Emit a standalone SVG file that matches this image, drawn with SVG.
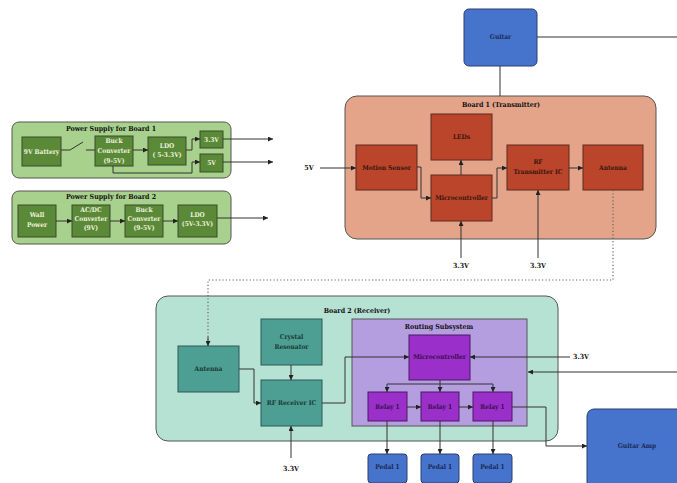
<svg xmlns="http://www.w3.org/2000/svg" width="677" height="483" viewBox="0 0 677 483">
<style>
text{font-family:"DejaVu Serif Condensed","DejaVu Serif",serif;font-weight:bold;font-size:6.6px;text-anchor:middle;dominant-baseline:middle}
.ps{fill:#a9d18e;stroke:#555;stroke-width:1}
.psn{fill:#5a8a38;stroke:#3a4a2a;stroke-width:1}
.pst{fill:#eef0dc}
.b1{fill:#e3a48a;stroke:#555;stroke-width:1}
.b1n{fill:#bb452b;stroke:#5a2a1e;stroke-width:1}
.b1t{fill:#3a1610}
.b2{fill:#b6e2d4;stroke:#555;stroke-width:1}
.b2n{fill:#4d9e93;stroke:#2d5a55;stroke-width:1}
.b2t{fill:#1c3a36}
.rs{fill:#b49ee0;stroke:#555;stroke-width:1}
.rsn{fill:#9a2fca;stroke:#4a1a60;stroke-width:1}
.rst{fill:#3a0f50}
.bl{fill:#4674cd;stroke:#2a3f70;stroke-width:1}
.blt{fill:#1a2a55}
.lbl{fill:#111;font-size:7px}
.c{fill:none;stroke:#333;stroke-width:1}
.ca{fill:none;stroke:#333;stroke-width:1;marker-end:url(#ah)}
.dot{fill:none;stroke:#666;stroke-width:1.2;stroke-dasharray:1.2 2.2}
</style>
<defs>
<marker id="ah" viewBox="0 0 10 10" refX="10" refY="5" markerWidth="5" markerHeight="5" markerUnits="userSpaceOnUse" orient="auto">
<path d="M0,0L10,5L0,10z" fill="#222"/>
</marker>
</defs>

<g id="ps1">
<rect class="ps" x="12" y="122" width="219" height="56" rx="7"/>
<text x="111" y="129" class="lbl">Power Supply for Board 1</text>
</g>
<g id="battery"><rect class="psn" x="22" y="137" width="39" height="29"/><text class="pst" x="41.5" y="152">9V Battery</text></g>
<g id="buck1"><rect class="psn" x="95" y="136" width="38" height="30"/><text class="pst" x="114" y="141">Buck</text><text class="pst" x="114" y="151">Converter</text><text class="pst" x="114" y="161">(9-5V)</text></g>
<g id="ldo1"><rect class="psn" x="148" y="137" width="38" height="28"/><text class="pst" x="167" y="146">LDO</text><text class="pst" x="167" y="155">( 5-3.3V)</text></g>
<g id="v33"><rect class="psn" x="200" y="131" width="23" height="17"/><text class="pst" x="211.5" y="140">3.3V</text></g>
<g id="v5"><rect class="psn" x="200" y="154" width="23" height="18"/><text class="pst" x="211.5" y="163">5V</text></g>

<g id="ps2">
<rect class="ps" x="12" y="191" width="219" height="53" rx="7"/>
<text x="111" y="197" class="lbl">Power Supply for Board 2</text>
</g>
<g id="wall"><rect class="psn" x="18" y="205" width="38" height="32"/><text class="pst" x="37" y="215">Wall</text><text class="pst" x="37" y="225">Power</text></g>
<g id="acdc"><rect class="psn" x="72" y="205" width="38" height="32"/><text class="pst" x="91" y="210">AC/DC</text><text class="pst" x="91" y="219">Converter</text><text class="pst" x="91" y="228">(9V)</text></g>
<g id="buck2"><rect class="psn" x="125" y="205" width="38" height="32"/><text class="pst" x="144" y="210">Buck</text><text class="pst" x="144" y="219">Converter</text><text class="pst" x="144" y="228">(9-5V)</text></g>
<g id="ldo2"><rect class="psn" x="178" y="205" width="39" height="32"/><text class="pst" x="197.5" y="215">LDO</text><text class="pst" x="197.5" y="224">(5V-3.3V)</text></g>

<g id="guitar"><rect class="bl" x="464" y="9" width="73" height="57" rx="5"/><text class="blt" x="500.5" y="37.5">Guitar</text></g>

<g id="board1">
<rect class="b1" x="345" y="96" width="311" height="143" rx="12"/>
<text x="501" y="105" class="lbl">Board 1 (Transmitter)</text>
</g>
<g id="leds"><rect class="b1n" x="431" y="114" width="61" height="46"/><text class="b1t" x="461.5" y="137">LEDs</text></g>
<g id="motion"><rect class="b1n" x="356" y="145" width="61" height="45"/><text class="b1t" x="386.5" y="168">Motion Sensor</text></g>
<g id="mcu1"><rect class="b1n" x="431" y="175" width="61" height="46"/><text class="b1t" x="461.5" y="198">Microcontroller</text></g>
<g id="rftx"><rect class="b1n" x="507" y="145" width="62" height="45"/><text class="b1t" x="538" y="162">RF</text><text class="b1t" x="538" y="172">Transmitter IC</text></g>
<g id="ant1"><rect class="b1n" x="583" y="145" width="60" height="45"/><text class="b1t" x="613" y="168">Antenna</text></g>

<g id="board2">
<rect class="b2" x="156" y="296" width="402" height="145" rx="12"/>
<text x="357" y="311" class="lbl">Board 2 (Receiver)</text>
</g>
<g id="ant2"><rect class="b2n" x="178" y="346" width="61" height="46"/><text class="b2t" x="208.5" y="369">Antenna</text></g>
<g id="crystal"><rect class="b2n" x="261" y="319" width="61" height="46"/><text class="b2t" x="291.5" y="337">Crystal</text><text class="b2t" x="291.5" y="347">Resonator</text></g>
<g id="rfrx"><rect class="b2n" x="261" y="380" width="61" height="46"/><text class="b2t" x="291.5" y="403">RF Receiver IC</text></g>

<g id="routing">
<rect class="rs" x="352" y="319" width="175" height="107"/>
<text x="439" y="327" class="lbl">Routing Subsystem</text>
</g>
<g id="mcu2"><rect class="rsn" x="409" y="335" width="61" height="45"/><text class="rst" x="439.5" y="357.5">Microcontroller</text></g>
<g id="relay1"><rect class="rsn" x="368" y="392" width="39" height="29"/><text class="rst" x="387.5" y="407">Relay 1</text></g>
<g id="relay2"><rect class="rsn" x="421" y="392" width="38" height="29"/><text class="rst" x="440" y="407">Relay 1</text></g>
<g id="relay3"><rect class="rsn" x="473" y="392" width="39" height="29"/><text class="rst" x="492.5" y="407">Relay 1</text></g>

<g id="pedal1"><rect class="bl" x="368" y="454" width="39" height="29" rx="3"/><text class="blt" x="387.5" y="467">Pedal 1</text></g>
<g id="pedal2"><rect class="bl" x="421" y="454" width="38" height="29" rx="3"/><text class="blt" x="440" y="467">Pedal 1</text></g>
<g id="pedal3"><rect class="bl" x="473" y="454" width="39" height="29" rx="3"/><text class="blt" x="492.5" y="467">Pedal 1</text></g>
<g id="amp"><rect class="bl" x="587" y="409" width="100" height="80" rx="7"/><text class="blt" x="637" y="446">Guitar Amp</text></g>

<g id="labels">
<text class="lbl" x="309" y="168">5V</text>
<text class="lbl" x="461" y="266">3.3V</text>
<text class="lbl" x="538" y="266">3.3V</text>
<text class="lbl" x="291" y="469">3.3V</text>
<text class="lbl" x="581" y="357">3.3V</text>
</g>

<g id="connectors">
<path class="c" d="M61,150H70L83,142"/>
<path class="c" d="M86,150H95"/>
<path class="ca" d="M133,150H148"/>
<path class="ca" d="M186,150H192V139H200"/>
<path class="ca" d="M113,166V173H192V162H200"/>
<path class="ca" d="M223,139H273"/>
<path class="ca" d="M223,162H273"/>
<path class="ca" d="M56,221H72"/>
<path class="ca" d="M110,221H125"/>
<path class="ca" d="M163,221H178"/>
<path class="ca" d="M217,218H268"/>
<path class="c" d="M500,66V96"/>
<path class="c" d="M537,37H677"/>
<path class="ca" d="M320,168H356"/>
<path class="ca" d="M417,167H421V198H431"/>
<path class="ca" d="M461,175V160"/>
<path class="ca" d="M492,198H497V168H507"/>
<path class="ca" d="M569,168H583"/>
<path class="ca" d="M461,258V221"/>
<path class="ca" d="M538,258V190"/>
<path class="dot" d="M613,190V280H208V340"/>
<path class="ca" d="M208,337V346"/>
<path class="ca" d="M239,369H254V403H261"/>
<path class="ca" d="M291,365V380"/>
<path class="ca" d="M291,458V426"/>
<path class="ca" d="M322,403H345V357H409"/>
<path class="ca" d="M570,357H470"/>
<path class="ca" d="M677,372H528"/>
<path class="c" d="M440,380V384M387,384H493"/>
<path class="ca" d="M387,384V392"/>
<path class="ca" d="M440,384V392"/>
<path class="ca" d="M493,384V392"/>
<path class="ca" d="M407,407H421"/>
<path class="ca" d="M459,407H473"/>
<path class="ca" d="M512,407H546V446H587"/>
<path class="ca" d="M387,421V454"/>
<path class="ca" d="M440,421V454"/>
<path class="ca" d="M493,421V454"/>
</g>
</svg>
